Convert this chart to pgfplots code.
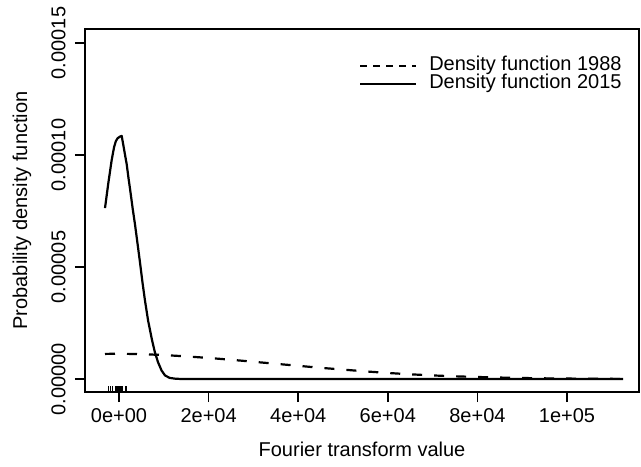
\documentclass[border=0pt]{standalone}
\usepackage{fontspec}
\setmainfont{Liberation Sans}
\usepackage{pgfplots}
\pgfplotsset{compat=1.18}
\begin{document}
\begin{tikzpicture}
\begin{axis}[
    at={(42.5pt,37pt)}, anchor=south west,
    scale only axis, width=277pt, height=181.5pt,
    xmin=-7589, xmax=116064,
    ymin=-5.8e-6, ymax=1.5625e-4,
    axis line style={line width=0.8pt},
    every tick/.style={black, line width=0.8pt},
    tick align=outside, major tick length=5pt,
    xtick pos=bottom, ytick pos=left,
    xtick={0,20000,40000,60000,80000,100000},
    xticklabels={0e+00,2e+04,4e+04,6e+04,8e+04,1e+05},
    ytick={0,0.00005,0.0001,0.00015},
    yticklabels={0.00000,0.00005,0.00010,0.00015},
    scaled ticks=false,
    minor tick num=0,
    tick label style={font=\fontsize{10}{12}\selectfont},
    xticklabel style={anchor=north, inner sep=0pt},
    yticklabel style={rotate=90, anchor=south, inner sep=0pt},
    xticklabel shift=3pt, yticklabel shift=4.5pt,
    xlabel={Fourier transform value},
    ylabel={Probability density function},
    label style={font=\fontsize{10}{12}\selectfont},
    xlabel style={at={(axis description cs:0.5,-0.157)}, anchor=center},
    ylabel style={at={(axis description cs:-0.1137,0.5)}, anchor=center},
    legend style={draw=none, fill=none, at={(axis description cs:0.9693,0.9250)},
        anchor=north east, inner sep=0pt, row sep=0pt,
        font=\fontsize{10}{10}\selectfont,
        nodes={inner sep=0pt, text height=7pt, text depth=2pt},
        /tikz/every odd column/.append style={column sep=6pt}},
    legend cell align=left,
]
\addplot[black, line width=1.1pt, dash pattern=on 5pt off 6pt,
    legend image code/.code={\draw[black, line width=1.1pt, dash pattern=on 3.5pt off 3pt] (0pt,0pt) -- (28pt,0pt);}]
coordinates {
(-3125,1.12e-5) (0,1.13e-5) (5000,1.11e-5) (10000,1.07e-5) (15000,1.01e-5)
(20000,9.4e-6) (25000,8.6e-6) (30000,7.7e-6) (35000,6.8e-6) (40000,5.9e-6)
(45000,5.0e-6) (50000,4.2e-6) (55000,3.4e-6) (60000,2.7e-6) (65000,2.1e-6)
(70000,1.6e-6) (75000,1.2e-6) (80000,0.9e-6) (85000,0.65e-6) (90000,0.45e-6)
(95000,0.3e-6) (100000,0.2e-6) (105000,0.12e-6) (112500,0.05e-6)
};
\addlegendentry{Density function 1988}
\addplot[black, line width=1.1pt, line join=round,
    legend image code/.code={\draw[black, line width=1.1pt] (0pt,0pt) -- (28pt,0pt);}]
coordinates {
(-3125,7.63e-5) (-2380,8.75e-5) (-1630,9.78e-5) (-1100,1.035e-4) (-700,1.062e-4)
(-300,1.075e-4) (200,1.082e-4) (603,1.085e-4) (960,1.045e-4) (1350,1.0e-4)
(1710,9.6e-5) (2100,9.0e-5) (2455,8.5e-5) (3058,7.6e-5)
(3571,6.9e-5) (4100,6.1e-5) (4690,5.2e-5) (5250,4.3e-5) (5800,3.5e-5) (6500,2.6e-5)
(7370,1.74e-5) (8000,1.2e-5) (8710,7.5e-6) (9500,3.8e-6)
(10270,1.6e-6) (11300,5e-7) (12500,1.5e-7) (14000,0) (112500,0)
};
\addlegendentry{Density function 2015}
\addplot[black, only marks, mark=|, mark size=1.5pt, mark options={line width=0.5pt}, forget plot]
coordinates {
(-2455,-4.46e-6) (-1900,-4.46e-6) (-1340,-4.46e-6) (-700,-4.46e-6) (-600,-4.46e-6)
(-500,-4.46e-6) (-400,-4.46e-6) (-300,-4.46e-6) (-200,-4.46e-6) (-100,-4.46e-6)
(0,-4.46e-6) (100,-4.46e-6) (200,-4.46e-6) (300,-4.46e-6) (400,-4.46e-6)
(500,-4.46e-6) (600,-4.46e-6) (700,-4.46e-6) (1340,-4.46e-6) (1785,-4.46e-6)
};
\end{axis}
\pgfresetboundingbox
\path (0,0) rectangle (320.5pt,233pt);
\end{tikzpicture}
\end{document}
